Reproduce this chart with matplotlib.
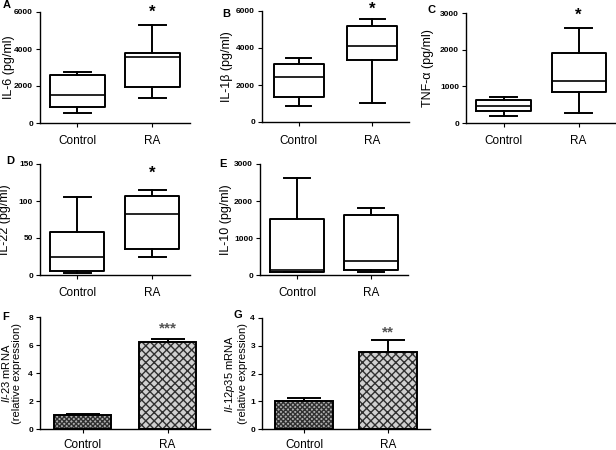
import matplotlib
matplotlib.use("Agg")
import matplotlib.pyplot as plt

plt.rcParams['font.family'] = ['Liberation Sans', 'DejaVu Sans']
plt.rcParams['mathtext.fontset'] = 'custom'
plt.rcParams['mathtext.rm'] = 'Liberation Sans'
plt.rcParams['mathtext.it'] = 'Liberation Sans:italic'
plt.rcParams['hatch.linewidth'] = 1.0

groups = ["Control", "RA"]

# box stats: (min, q1, median, q3, max)
il6_ctrl = [560, 890, 1500, 2620, 2780]
il6_ra = [1360, 1970, 3580, 3780, 5320]
il1b_ctrl = [870, 1360, 2410, 3130, 3480]
il1b_ra = [1050, 3350, 4090, 5180, 5580]
tnfa_ctrl = [200, 327, 455, 618, 700]
tnfa_ra = [264, 845, 1136, 1900, 2582]
il22_ctrl = [2.3, 5.4, 24, 58, 106]
il22_ra = [25, 35, 83, 107, 115]
il10_ctrl = [72, 90, 135, 1523, 2622]
il10_ra = [81, 144, 369, 1622, 1811]

il23_mean = [1.0, 6.2]
il23_err = [0.08, 0.2]
il12_mean = [1.0, 2.77]
il12_err = [0.12, 0.43]

W, H = 616, 450
fig = plt.figure(figsize=(W / 100, H / 100), dpi=100)


def add_ax(left, top, width, height):
    return fig.add_axes([left / W, 1 - (top + height) / H, width / W, height / H])


def style(ax, ymax, step, xpad=6):
    for s in ["top", "right"]:
        ax.spines[s].set_visible(False)
    for s in ["left", "bottom"]:
        ax.spines[s].set_linewidth(1.0)
    ax.set_xlim(0.5, 2.5)
    ax.set_ylim(0, ymax)
    ax.set_yticks([i * step for i in range(int(round(ymax / step)) + 1)])
    ax.set_xticks([1, 2])
    ax.set_xticklabels(groups, fontsize=8.5)
    ax.tick_params(axis='y', labelsize=6, length=3, width=0.8, pad=2)
    ax.tick_params(axis='x', length=3, width=0.8, pad=xpad)
    for lab in ax.get_yticklabels():
        lab.set_fontweight('bold')


def box(ax, ctrl, ra, w=0.7):
    stats = []
    for d, lab in zip([ctrl, ra], groups):
        stats.append(dict(whislo=d[0], q1=d[1], med=d[2], q3=d[3], whishi=d[4], label=lab, fliers=[]))
    lw = 1.4
    ax.bxp(stats, positions=[1, 2], widths=w, showfliers=False,
           boxprops=dict(linewidth=lw, color='black'),
           whiskerprops=dict(linewidth=lw, color='black'),
           capprops=dict(linewidth=lw, color='black'),
           medianprops=dict(linewidth=1.2, color='black'),
           capwidths=w / 2)


def bars(ax, means, errs):
    hatches = ['xxxxxxx', 'xxxx']
    faces = ['#b0b0b0', '#d0d0d0']
    for i, (m, e) in enumerate(zip(means, errs)):
        ax.bar(i + 1, m, width=0.68, color=faces[i], edgecolor='#303030', hatch=hatches[i], linewidth=0, zorder=2)
        ax.bar(i + 1, m, width=0.68, fill=False, edgecolor='black', linewidth=1.4, zorder=3)
        ax.errorbar(i + 1, m, yerr=[[0], [e]], color='black', capsize=12, elinewidth=1.4, capthick=1.4, zorder=1)


def letter(x, y, t):
    fig.text(x / W, 1 - y / H, t, fontsize=8, fontweight='bold', ha='left', va='center')


def star(ax, xpos, y, t, color='black', size=12):
    ax.text(xpos, y, t, transform=ax.get_xaxis_transform(), ha='center', va='center',
            fontsize=size, fontweight='bold', color=color, clip_on=False)


# Panel A
axA = add_ax(40, 12, 150, 111)
box(axA, il6_ctrl, il6_ra, 0.74)
style(axA, 6000, 2000)
axA.set_ylabel("IL-6 (pg/ml)", fontsize=9)
axA.yaxis.set_label_coords(-0.165, 0.5)
star(axA, 2, 1.0, "*")
letter(3, 5, "A")

# Panel B
axB = add_ax(262, 11, 147, 111)
box(axB, il1b_ctrl, il1b_ra, 0.68)
style(axB, 6000, 2000)
axB.set_ylabel("IL-1β (pg/ml)", fontsize=9)
axB.yaxis.set_label_coords(-0.2, 0.5)
star(axB, 2, 1.02, "*")
letter(222, 14, "B")

# Panel C
axC = add_ax(466, 13, 150, 110)
box(axC, tnfa_ctrl, tnfa_ra, 0.72)
style(axC, 3000, 1000)
axC.set_ylabel("TNF-α (pg/ml)", fontsize=9)
axC.yaxis.set_label_coords(-0.21, 0.5)
star(axC, 2, 0.98, "*")
letter(428, 10, "C")

# Panel D
axD = add_ax(40, 164, 150, 111)
box(axD, il22_ctrl, il22_ra, 0.72)
style(axD, 150, 50)
axD.set_ylabel("IL-22 (pg/ml)", fontsize=9)
axD.yaxis.set_label_coords(-0.19, 0.5)
star(axD, 2, 0.92, "*")
letter(6, 161, "D")

# Panel E
axE = add_ax(260, 164, 148, 111)
box(axE, il10_ctrl, il10_ra, 0.72)
style(axE, 3000, 1000)
axE.set_ylabel("IL-10 (pg/ml)", fontsize=9)
axE.yaxis.set_label_coords(-0.19, 0.5)
letter(219, 164, "E")

# Panel F
axF = add_ax(40, 317, 170, 112)
bars(axF, il23_mean, il23_err)
style(axF, 8, 2, xpad=4)
axF.set_ylabel("$\\mathit{Il}$-23 mRNA\n(relative expression)", fontsize=8, linespacing=1.05)
axF.yaxis.set_label_coords(-0.105, 0.5)
star(axF, 2, 0.9, "***", color='#555555', size=11)
letter(2, 317, "F")

# Panel G
axG = add_ax(262, 318, 168, 111)
bars(axG, il12_mean, il12_err)
style(axG, 4, 1, xpad=4)
axG.set_ylabel("$\\mathit{Il}$-$\\mathit{12p35}$ mRNA\n(relative expression)", fontsize=8, linespacing=1.05)
axG.yaxis.set_label_coords(-0.085, 0.5)
star(axG, 2, 0.87, "**", color='#555555', size=11)
letter(234, 315, "G")

fig.savefig("out.png", dpi=100)
